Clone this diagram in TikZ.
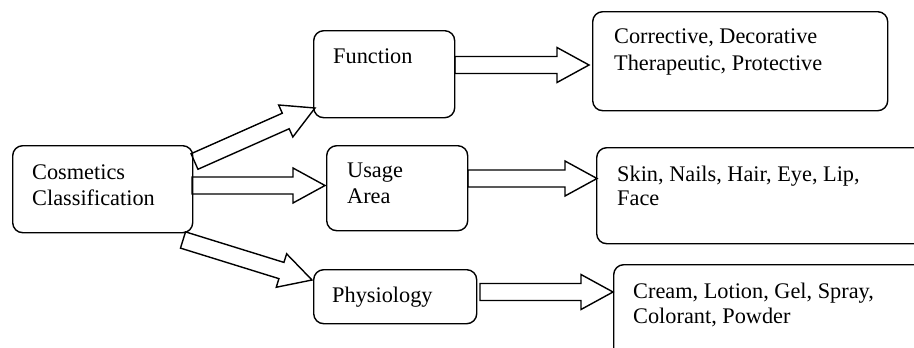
\documentclass[tikz,border=0pt]{standalone}
\usepackage{fontspec}
\setmainfont{Liberation Serif}
\usetikzlibrary{calc}
\tikzset{
  box/.style={draw, line width=1.4pt, rounded corners=10pt, anchor=north west, inner sep=0pt},
  lbl/.style={anchor=base west, inner sep=0pt, font=\fontsize{22.3}{26}\selectfont},
  blk/.style={draw, line width=1.4pt, line join=miter},
}
\newcommand\blockarrow[2]{%
  \coordinate (hb) at ($(#2)!32pt!(#1)$);
  \draw[blk] ($(#1)!8.5pt!90:(#2)$) -- ($(hb)!8.5pt!90:(#2)$) -- ($(hb)!17.5pt!90:(#2)$) -- (#2)
    -- ($(hb)!17.5pt!-90:(#2)$) -- ($(hb)!8.5pt!-90:(#2)$) -- ($(#1)!8.5pt!-90:(#2)$) -- cycle;
}
\begin{document}
\begin{tikzpicture}[x=1pt,y=-1pt]
  \clip (0,0) rectangle (914,348);
  \fill[white] (0,0) rectangle (914,348);
  % boxes
  \node[box, minimum width=180pt, minimum height=87pt] (cos) at (12,145) {};
  \node[box, minimum width=141pt, minimum height=87pt] (fun) at (313,30) {};
  \node[box, minimum width=141pt, minimum height=85pt] (use) at (326,145) {};
  \node[box, minimum width=163pt, minimum height=54pt] (phy) at (313,269) {};
  \node[box, minimum width=295pt, minimum height=99pt] (rf) at (592,11) {};
  \node[box, minimum width=340pt, minimum height=96pt] (ru) at (596,147) {};
  \node[box, minimum width=330pt, minimum height=110pt] (rp) at (613,264) {};
  % labels
  \node[lbl] (cosA) at (32,179) {Cosmetics};
  \node[lbl] (cosB) at (32,205) {Classification};
  \node[lbl] (funA) at (333,63) {Function};
  \node[lbl] (useA) at (347,177) {Usage};
  \node[lbl] (useB) at (347,203) {Area};
  \node[lbl] (phyA) at (332,302) {Physiology};
  \node[lbl] (rfA) at (614,43) {Corrective, Decorative};
  \node[lbl] (rfB) at (614,70) {Therapeutic, Protective};
  \node[lbl] (ruA) at (617,181) {Skin, Nails, Hair, Eye, Lip,};
  \node[lbl] (ruB) at (617,205) {Face};
  \node[lbl] (rpA) at (633,298) {Cream, Lotion, Gel, Spray,};
  \node[lbl] (rpB) at (633,323) {Colorant, Powder};
  % arrow end points
  \coordinate (t1) at (194.5,161.5); \coordinate (h1) at (315,108);
  \coordinate (t2) at (192,185.5);   \coordinate (h2) at (325,185.5);
  \coordinate (t3) at (183,240);     \coordinate (h3) at (312,280);
  \coordinate (t4) at (455,65);      \coordinate (h4) at (589,65);
  \coordinate (t5) at (468,178.5);   \coordinate (h5) at (597,178.5);
  \coordinate (t6) at (480,292);     \coordinate (h6) at (613,292);
  \blockarrow{t1}{h1}
  \blockarrow{t2}{h2}
  \blockarrow{t3}{h3}
  \blockarrow{t4}{h4}
  \blockarrow{t5}{h5}
  \blockarrow{t6}{h6}
\end{tikzpicture}
\end{document}
